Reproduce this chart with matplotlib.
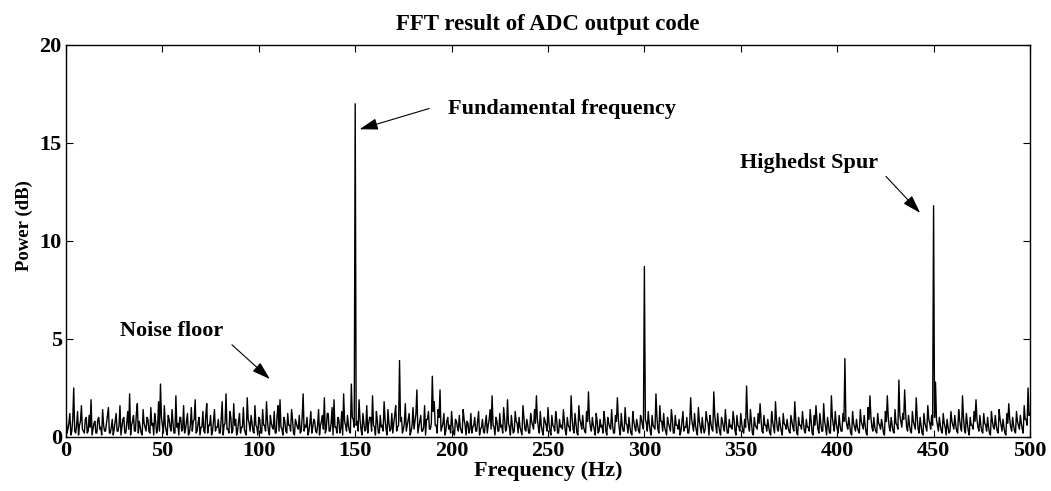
import matplotlib
matplotlib.use("Agg")
import matplotlib.pyplot as plt
import numpy as np

plt.rcParams['font.family'] = ['Liberation Serif', 'DejaVu Serif']
plt.rcParams['font.weight'] = 'bold'

# Power spectrum (dB) at integer-Hz bins, 0..500 Hz
power_0_99 = [
    1.5, 0.4, 1.2, 0.3, 2.5, 0.2, 1.3, 0.6, 1.6, 0.3, 0.9, 0.2, 1.1, 1.9, 0.4, 0.8, 0.2, 1.0, 0.5, 1.4, 0.3, 0.7, 1.5, 0.2, 0.9,
    0.4, 1.2, 0.3, 1.6, 0.5, 1.0, 0.2, 1.3, 2.2, 0.6, 1.1, 0.3, 1.7, 0.8, 0.2, 1.4, 0.5, 1.0, 0.3, 1.5, 0.7, 1.2, 0.2, 1.8, 2.7,
    0.6, 1.6, 0.3, 1.1, 0.5, 1.4, 0.2, 2.1, 0.7, 1.0, 0.3, 1.6, 0.4, 1.2, 0.2, 1.5, 0.8, 1.9, 0.3, 1.0, 0.5, 1.3, 0.2, 1.7, 0.6,
    1.1, 0.3, 1.4, 0.5, 0.9, 0.2, 1.8, 0.6, 2.2, 0.4, 1.3, 0.2, 1.7, 0.9, 0.3, 1.2, 0.5, 1.5, 0.2, 2.0, 0.7, 1.1, 0.3, 1.6, 0.5,
]
power_100_199 = [
    1.0, 0.2, 1.4, 0.6, 1.8, 0.3, 1.1, 0.5, 1.3, 0.2, 1.6, 1.9, 0.4, 1.0, 0.3, 1.2, 0.6, 1.4, 0.2, 0.9, 0.5, 1.1, 0.3, 2.2, 0.6,
    1.0, 0.3, 1.3, 0.5, 0.8, 0.2, 1.4, 0.6, 1.1, 2.0, 0.4, 1.2, 0.3, 1.5, 1.9, 0.5, 1.0, 0.2, 1.3, 2.2, 0.6, 1.1, 0.3, 2.7, 0.9,
    17.0, 0.8, 1.9, 0.4, 1.2, 0.3, 1.6, 0.7, 1.0, 2.1, 0.5, 1.3, 0.2, 1.1, 0.6, 1.8, 0.4, 1.4, 0.3, 1.2, 0.7, 1.6, 0.5, 3.9, 1.0,
    0.4, 1.7, 0.6, 1.2, 0.3, 1.5, 0.8, 2.4, 0.5, 1.1, 0.3, 1.6, 0.9, 1.3, 0.4, 3.1, 1.8, 0.6, 1.4, 2.4, 0.5, 1.2, 0.3, 1.0, 0.6,
]
power_200_299 = [
    1.3, 0.2, 0.9, 0.5, 1.1, 0.3, 1.4, 0.6, 0.8, 0.2, 1.2, 0.5, 1.0, 0.3, 1.3, 0.4, 0.9, 0.2, 1.1, 0.6, 1.4, 2.1, 0.5, 1.0, 0.3,
    1.2, 0.6, 1.5, 0.3, 1.9, 0.5, 1.1, 0.2, 1.3, 0.7, 1.0, 0.3, 1.6, 0.4, 0.9, 0.2, 1.2, 0.6, 1.4, 2.1, 0.5, 1.3, 0.3, 1.0, 0.6,
    1.5, 0.3, 1.1, 0.5, 1.3, 0.2, 0.9, 0.6, 1.4, 0.3, 1.0, 0.5, 2.1, 0.4, 1.2, 0.2, 1.6, 0.7, 1.1, 0.3, 1.3, 2.3, 0.5, 1.0, 0.4,
    1.2, 0.2, 0.9, 0.6, 1.3, 0.3, 1.0, 0.5, 1.4, 0.2, 1.1, 2.0, 0.4, 1.2, 0.3, 1.5, 0.6, 1.0, 0.2, 1.3, 0.5, 0.9, 0.3, 1.1, 0.6,
]
power_300_399 = [
    8.7, 0.7, 1.3, 0.3, 1.1, 0.5, 2.2, 0.4, 1.6, 0.8, 1.2, 0.3, 1.0, 0.5, 1.4, 0.2, 1.1, 0.6, 0.9, 0.3, 1.3, 0.5, 1.0, 0.2, 2.0,
    0.6, 1.2, 0.3, 1.5, 0.5, 1.0, 0.2, 1.3, 0.7, 1.1, 0.4, 2.3, 0.6, 1.2, 0.3, 1.0, 0.5, 1.4, 0.2, 0.9, 0.6, 1.3, 0.3, 1.1, 0.5,
    1.2, 0.3, 0.9, 2.6, 0.6, 1.4, 0.2, 1.0, 0.5, 1.2, 1.7, 0.3, 1.1, 0.6, 0.9, 0.2, 1.3, 0.5, 1.8, 0.4, 1.0, 0.3, 1.2, 0.6, 0.9,
    0.3, 1.1, 0.5, 1.8, 0.2, 1.0, 0.6, 1.3, 0.3, 0.9, 0.5, 1.4, 0.2, 1.1, 1.6, 0.4, 1.2, 0.3, 1.7, 0.5, 1.0, 0.2, 2.1, 0.6, 1.3,
]
power_400_500 = [
    0.4, 1.1, 0.3, 1.2, 4.0, 0.6, 1.0, 0.2, 1.3, 0.5, 0.9, 0.3, 1.4, 0.6, 1.1, 0.2, 1.5, 2.1, 0.5, 1.0, 0.3, 1.2, 0.6, 0.9, 0.2,
    1.3, 2.1, 0.5, 1.0, 0.3, 1.4, 0.6, 2.9, 0.8, 1.2, 2.4, 0.5, 1.1, 0.3, 1.3, 0.6, 2.0, 0.4, 1.0, 0.2, 1.2, 0.5, 1.6, 0.7, 1.1,
    11.8, 2.8, 0.6, 1.0, 0.3, 1.2, 0.5, 0.9, 0.2, 1.3, 0.6, 1.1, 0.3, 1.4, 0.5, 2.1, 0.4, 1.2, 0.3, 1.0, 0.6, 1.3, 1.9, 0.5, 1.1,
    0.3, 1.2, 0.6, 1.0, 0.2, 1.3, 0.5, 1.1, 0.3, 1.4, 0.6, 0.9, 0.2, 1.2, 1.7, 0.5, 1.0, 0.3, 1.3, 0.6, 1.1, 0.4, 1.6, 0.9, 2.5,
    1.2,
]
# Power (dB) at half-Hz bins, 0.5..499.5 Hz
power_mid_0_249 = [
    0.2, 0.7, 0.1, 0.9, 0.3, 0.6, 0.1, 0.8, 0.4, 0.2, 1.0, 0.3, 0.5, 0.1, 0.7, 0.2, 0.9, 0.4, 0.1, 0.6, 0.3, 1.1, 0.2, 0.5, 0.1,
    0.8, 0.3, 0.6, 0.1, 0.9, 0.2, 0.7, 0.4, 0.1, 0.8, 0.3, 1.2, 0.2, 0.5, 0.1, 0.7, 0.3, 0.9, 0.2, 0.6, 0.1, 0.8, 0.4, 0.3, 1.0,
    0.2, 0.6, 0.1, 0.9, 0.3, 0.7, 0.2, 0.5, 0.1, 1.0, 0.4, 0.2, 0.8, 0.1, 0.6, 0.3, 0.9, 0.2, 0.7, 0.1, 0.5, 0.3, 1.1, 0.2, 0.6,
    0.1, 0.8, 0.3, 0.5, 0.2, 0.9, 0.1, 0.7, 0.4, 0.2, 1.0, 0.3, 0.6, 0.1, 0.8, 0.2, 0.5, 0.4, 0.1, 0.9, 0.3, 0.7, 0.2, 0.6, 0.1,
    0.9, 0.2, 0.6, 0.3, 0.8, 0.1, 0.7, 0.4, 0.2, 1.1, 0.3, 0.5, 0.1, 0.8, 0.2, 0.6, 0.3, 0.9, 0.1, 0.7, 0.4, 0.2, 1.0, 0.3, 0.5,
    0.1, 0.7, 0.2, 0.9, 0.3, 0.6, 0.1, 0.8, 0.4, 0.2, 1.2, 0.3, 0.7, 0.1, 0.5, 0.2, 0.9, 0.4, 0.1, 0.8, 0.3, 0.6, 0.2, 1.0, 0.5,
    0.6, 0.3, 0.9, 0.1, 0.7, 0.4, 0.2, 1.0, 0.3, 0.6, 0.1, 0.8, 0.2, 0.5, 0.3, 0.9, 0.1, 0.7, 0.4, 0.2, 1.1, 0.3, 0.6, 0.8, 0.2,
    0.7, 0.3, 0.9, 0.1, 0.6, 0.4, 1.2, 0.2, 0.8, 0.3, 0.5, 0.1, 0.9, 0.4, 0.7, 1.3, 0.6, 0.2, 1.0, 0.3, 0.7, 0.1, 0.8, 0.4, 0.2,
    0.6, 0.1, 0.8, 0.3, 0.5, 0.2, 0.9, 0.1, 0.7, 0.4, 0.2, 0.6, 0.3, 0.8, 0.1, 0.5, 0.3, 0.7, 0.2, 0.9, 0.4, 0.6, 0.1, 0.8, 0.3,
    0.5, 0.2, 0.9, 0.4, 0.7, 0.1, 0.6, 0.3, 0.8, 0.2, 0.5, 0.1, 1.0, 0.3, 0.6, 0.2, 0.8, 0.4, 0.7, 0.9, 0.2, 0.6, 0.1, 0.8, 0.3,
]
power_mid_250_499 = [
    0.7, 0.1, 0.6, 0.3, 0.9, 0.2, 0.5, 0.4, 0.8, 0.1, 0.6, 0.3, 1.0, 0.2, 0.7, 0.1, 0.9, 0.4, 0.5, 0.2, 0.8, 0.9, 0.3, 0.6, 0.1,
    0.8, 0.3, 0.5, 0.2, 0.9, 0.1, 0.7, 0.4, 0.6, 0.2, 0.8, 0.9, 0.1, 0.6, 0.3, 0.7, 0.2, 0.5, 0.1, 0.8, 0.3, 0.6, 0.2, 0.9, 0.4,
    0.9, 0.3, 0.7, 0.1, 0.6, 0.4, 1.0, 0.2, 0.8, 0.3, 0.5, 0.1, 0.7, 0.3, 0.9, 0.2, 0.6, 0.4, 0.1, 0.8, 0.3, 0.5, 0.2, 0.7, 0.9,
    0.3, 0.6, 0.1, 0.8, 0.2, 0.5, 0.4, 0.9, 0.1, 0.7, 0.3, 1.1, 0.2, 0.6, 0.1, 0.8, 0.3, 0.7, 0.2, 0.5, 0.4, 0.9, 0.1, 0.6, 0.3,
    0.7, 0.2, 0.5, 1.0, 0.3, 0.8, 0.1, 0.6, 0.4, 0.7, 0.9, 0.2, 0.6, 0.3, 0.5, 0.1, 0.8, 0.2, 0.9, 0.3, 0.6, 0.1, 0.7, 0.4, 0.5,
    0.2, 0.8, 0.3, 0.9, 0.1, 0.6, 0.4, 0.7, 0.2, 0.5, 0.3, 0.8, 0.1, 0.6, 0.9, 0.2, 0.7, 0.3, 0.8, 0.1, 0.6, 0.2, 1.0, 0.3, 0.7,
    0.2, 0.6, 0.3, 0.8, 0.9, 0.4, 0.6, 0.1, 0.7, 0.3, 0.5, 0.2, 0.8, 0.4, 0.6, 0.1, 0.9, 1.0, 0.3, 0.5, 0.2, 0.7, 0.4, 0.6, 0.1,
    0.8, 1.0, 0.3, 0.6, 0.2, 0.7, 0.4, 1.1, 0.5, 0.9, 1.2, 0.3, 0.6, 0.2, 0.8, 0.4, 1.0, 0.2, 0.6, 0.1, 0.7, 0.3, 0.9, 0.4, 0.6,
    1.0, 0.9, 0.3, 0.6, 0.2, 0.7, 0.1, 0.5, 0.3, 0.8, 0.4, 0.6, 0.2, 0.9, 0.3, 1.0, 0.2, 0.7, 0.1, 0.6, 0.4, 0.8, 0.9, 0.3, 0.6,
    0.2, 0.7, 0.3, 0.5, 0.1, 0.8, 0.4, 0.6, 0.2, 0.9, 0.3, 0.5, 0.1, 0.7, 0.9, 0.3, 0.6, 0.2, 0.8, 0.4, 0.7, 0.2, 0.9, 0.6, 1.1,
]

power_int = np.array(power_0_99 + power_100_199 + power_200_299 + power_300_399 + power_400_500)
power_mid = np.array(power_mid_0_249 + power_mid_250_499)
freq_int = np.arange(len(power_int), dtype=float)
freq_mid = np.arange(len(power_mid), dtype=float) + 0.5

freq = np.empty(len(freq_int) + len(freq_mid))
power = np.empty_like(freq)
freq[0::2] = freq_int
freq[1::2] = freq_mid
power[0::2] = power_int
power[1::2] = power_mid

x_ticks = [0, 50, 100, 150, 200, 250, 300, 350, 400, 450, 500]
y_ticks = [0, 5, 10, 15, 20]

fig = plt.figure(figsize=(10.51, 4.91), dpi=100)
ax = fig.add_axes([0.0628, 0.110, 0.9172, 0.7984])
ax.plot(freq, power, color='black', linewidth=1.0)
ax.set_xlim(0, 500)
ax.set_ylim(0, 20)
ax.set_xticks(x_ticks)
ax.set_yticks(y_ticks)
ax.tick_params(direction='in', top=True, right=True, length=5, labelsize=16, pad=3)
for lab in ax.get_xticklabels() + ax.get_yticklabels():
    lab.set_fontweight('bold')
for s in ax.spines.values():
    s.set_linewidth(1.0)
ax.set_title('FFT result of ADC output code', fontsize=16.5, fontweight='bold', pad=11)
ax.set_xlabel('Frequency (Hz)', fontsize=16, fontweight='bold', labelpad=0)
ax.set_ylabel('Power (dB)', fontsize=13.5, fontweight='bold')
ax.yaxis.set_label_coords(-0.034, 0.54)

arrow = dict(arrowstyle='-|>,head_length=0.7,head_width=0.22', color='black', lw=0.8, mutation_scale=16)
ax.annotate('', xy=(150.9, 15.66), xytext=(189.8, 16.8), arrowprops=arrow)
ax.text(198, 16.75, 'Fundamental frequency', fontsize=16, fontweight='bold', va='center', ha='left')
ax.annotate('', xy=(444, 11.33), xytext=(424.3, 13.4), arrowprops=arrow)
ax.text(349.6, 14.0, 'Highedst Spur', fontsize=16, fontweight='bold', va='center', ha='left')
ax.annotate('', xy=(106.8, 2.86), xytext=(85, 4.8), arrowprops=arrow)
ax.text(28, 5.4, 'Noise floor', fontsize=16, fontweight='bold', va='center', ha='left')

fig.savefig('out.png', dpi=100)
